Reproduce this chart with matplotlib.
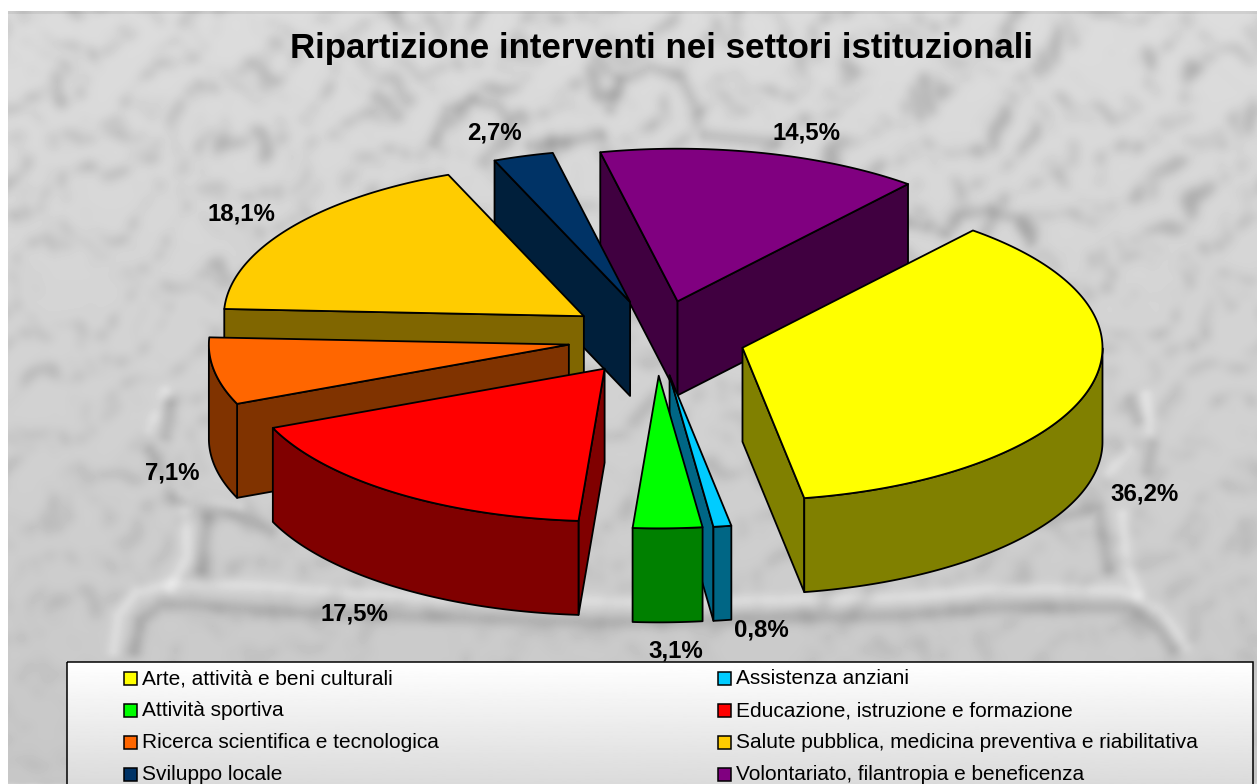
import numpy as np
import matplotlib
matplotlib.use("Agg")
import matplotlib.pyplot as plt
from matplotlib.patches import Polygon, Rectangle

plt.rcParams['font.family'] = ['Liberation Sans', 'DejaVu Sans']

# ---- data -------------------------------------------------------------
categories = ["Arte, attività e beni culturali", "Assistenza anziani", "Attività sportiva",
              "Educazione, istruzione e formazione", "Ricerca scientifica e tecnologica",
              "Salute pubblica, medicina preventiva e riabilitativa", "Sviluppo locale",
              "Volontariato, filantropia e beneficenza"]
values = [36.2, 0.8, 3.1, 17.5, 7.1, 18.1, 2.7, 14.5]
top_colors = ["#FFFF00", "#00CCFF", "#00FF00", "#FF0000", "#FF6600", "#FFCC00", "#003366", "#800080"]
side_colors = ["#808000", "#006685", "#008000", "#800000", "#803300", "#806600", "#001F3B", "#400040"]
title = "Ripartizione interventi nei settori istituzionali"

# ---- layout -----------------------------------------------------------
W, H = 1257, 784
CX, CY, R, SQ, DEPTH, EXPLODE, START = 656.5, 338, 360, 0.424, 94, 89, 50.2
DRAW_ORDER = [7, 6, 5, 4, 3, 0, 1, 2]
LABEL_XY = [(1145, 494), (761, 630), (676, 651), (354, 614), (172, 473), (241, 214), (494, 133), (807, 133)]

fig = plt.figure(figsize=(W / 100, H / 100), dpi=100, facecolor="white")
ax = fig.add_axes([0, 0, 1, 1])
ax.set_xlim(0, W)
ax.set_ylim(H, 0)
ax.axis("off")


# ---- background: mottled grey with a faint embossed emblem ------------
def blur(img, sigma):
    fy = np.fft.fftfreq(img.shape[0])[:, None]
    fx = np.fft.rfftfreq(img.shape[1])[None, :]
    kernel = np.exp(-2 * (np.pi * sigma) ** 2 * (fx ** 2 + fy ** 2))
    return np.fft.irfft2(np.fft.rfft2(img) * kernel, s=img.shape)


yy, xx = np.mgrid[0:H, 0:W].astype(float)
u = xx + 18 * np.sin(yy * 0.031 + 1.0) + 11 * np.sin(xx * 0.053 + yy * 0.019) + 6 * np.sin(yy * 0.11 - xx * 0.07)
v = yy + 15 * np.sin(xx * 0.037 + 0.4) + 10 * np.sin(yy * 0.059 - xx * 0.023) + 6 * np.sin(xx * 0.13 + yy * 0.09)
cells = np.sin(u * 0.16 + v * 0.05) * np.sin(v * 0.20 - u * 0.06 + 0.8) + 0.6 * np.sin(u * 0.071 + v * 0.103 + 2.0)
dark = blur(np.clip(cells - 0.25, 0, None), 5)
bg = 221 - 22 * (yy / H) - (44 - 30 * yy / H) * dark


def stroke(points, width, amp):
    global bg
    pts = np.array(points, float)
    seg = np.r_[0, np.cumsum(np.hypot(*np.diff(pts, axis=0).T))]
    s = np.arange(0, seg[-1] + 1, 5.0)
    px, py = np.interp(s, seg, pts[:, 0]), np.interp(s, seg, pts[:, 1])
    x0, x1 = int(max(px.min() - 3 * width, 0)), int(min(px.max() + 3 * width, W))
    y0, y1 = int(max(py.min() - 3 * width, 0)), int(min(py.max() + 3 * width, H))
    sx, sy = xx[y0:y1, x0:x1], yy[y0:y1, x0:x1]
    d2 = np.full(sx.shape, 1e12)
    for a, b in zip(px, py):
        d2 = np.minimum(d2, (sx - a) ** 2 + (sy - b) ** 2)
    bg[y0:y1, x0:x1] += amp * np.exp(-d2 / width ** 2)


LIGHT_RIDGES = [
    [(113, 650), (118, 615), (135, 592), (170, 583), (250, 585), (400, 596), (650, 602), (900, 597), (1000, 588),
     (1120, 590), (1160, 610), (1187, 648)],
    [(185, 512), (187, 555), (170, 588)],
    [(165, 392), (148, 430)],
    [(165, 482), (192, 502), (240, 506)],
    [(1145, 395), (1150, 432)],
    [(1128, 450), (1108, 472)],
    [(1122, 515), (1126, 565), (1138, 592)],
]
DARK_RIDGES = [
    [(135, 650), (140, 620), (160, 605), (190, 604), (300, 612), (600, 622), (900, 615), (1000, 607), (1130, 607),
     (1160, 630), (1172, 648)],
    [(207, 518), (200, 570)],
    [(170, 405), (165, 437)],
    [(150, 450), (175, 498), (240, 515), (270, 530)],
    [(1130, 400), (1138, 420)],
    [(1152, 445), (1147, 470)],
    [(1040, 520), (1098, 508), (1108, 570)],
    [(433, 142), (447, 110), (473, 100), (497, 105), (510, 122)],
    [(610, 108), (622, 80), (650, 67), (680, 76), (697, 110)],
    [(947, 232), (960, 215), (987, 210), (1015, 218), (1030, 240)],
    [(530, 145), (600, 135)],
    [(705, 135), (775, 142)],
    [(905, 222), (928, 227)],
]
for line in LIGHT_RIDGES:
    stroke(line, 7, 16)
for line in DARK_RIDGES:
    stroke(line, 8, -24)
bg = np.clip(blur(bg, 1.5), 0, 255)
bg[11:14, :] -= 14
ax.imshow(bg[11:, 8:], cmap="gray", vmin=0, vmax=255, extent=(8, W, H, 11), aspect="auto",
          interpolation="bilinear", zorder=0)
ax.set_xlim(0, W)
ax.set_ylim(H, 0)


# ---- 3-D exploded pie ---------------------------------------------------
def project(angle, radius, cx, cy, drop=0.0):
    a = np.radians(angle)
    return cx + radius * np.cos(a), cy - SQ * radius * np.sin(a) + drop


edges = START - np.cumsum([0] + values) * 3.6
LINE = dict(edgecolor="black", linewidth=1.3, joinstyle="round")

for i in DRAW_ORDER:
    a0, a1 = edges[i], edges[i + 1]
    mid = (a0 + a1) / 2
    ox, oy = project(mid, EXPLODE, CX, CY)
    th = np.linspace(a0, a1, max(int(abs(a1 - a0) * 2), 3))
    ax_x, ax_y = project(th, R, ox, oy)
    top = np.column_stack([np.r_[ox, ax_x], np.r_[oy, ax_y]])
    z = 10 + DRAW_ORDER.index(i)
    # radial walls that face the viewer
    sx, sy = ax_x[0], ax_y[0]
    ex, ey = ax_x[-1], ax_y[-1]
    for (p, q) in (((ox, oy), (sx, sy)), ((ex, ey), (ox, oy))):
        if q[0] < p[0]:
            ax.add_patch(Polygon([p, q, (q[0], q[1] + DEPTH), (p[0], p[1] + DEPTH)],
                                 facecolor=side_colors[i], zorder=z, **LINE))
    # outer wall: front half of the rim only
    front = np.sin(np.radians(th)) <= 0
    if front.sum() > 1:
        fx, fy = ax_x[front], ax_y[front]
        ax.add_patch(Polygon(np.column_stack([np.r_[fx, fx[::-1]], np.r_[fy, fy[::-1] + DEPTH]]),
                             facecolor=side_colors[i], zorder=z, **LINE))
    ax.add_patch(Polygon(top, facecolor=top_colors[i], zorder=z, **LINE))

# ---- data labels -------------------------------------------------------
for v, (lx, ly) in zip(values, LABEL_XY):
    ax.text(lx, ly, f"{v:.1f}%".replace(".", ","), ha="center", va="center",
            fontsize=17.3, fontweight="bold", color="black", zorder=40)

ax.text(662, 48, title, ha="center", va="center", fontsize=25.1, fontweight="bold", color="black", zorder=40)

# ---- legend ------------------------------------------------------------
LX0, LY0, LX1, LY1 = 67, 662, 1253, 786
grad = np.linspace(255, 218, 128)[:, None]
ax.imshow(grad, cmap="gray", vmin=0, vmax=255, extent=(LX0, LX1, LY1, LY0), aspect="auto", zorder=45)
ax.set_xlim(0, W)
ax.set_ylim(H, 0)
ax.add_patch(Rectangle((LX0, LY0), LX1 - LX0, LY1 - LY0, fill=False, edgecolor="black", linewidth=1.1, zorder=46))
for i, name in enumerate(categories):
    col, row = i % 2, i // 2
    x = 124 + col * 594
    y = 678 + row * 32
    ax.add_patch(Rectangle((x, y - 6.5), 13, 13, facecolor=top_colors[i], edgecolor="black", linewidth=1.1, zorder=47))
    ax.text(x + 18.5, y + 1, name, ha="left", va="center", fontsize=15, color="black", zorder=47)

fig.savefig("out.png", dpi=100, facecolor="white")
